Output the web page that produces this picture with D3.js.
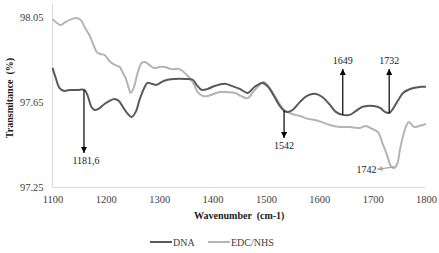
<!DOCTYPE html>
<html>
<meta charset="utf-8">
<style>
body { margin: 0; background: #fff; font-family: "Liberation Serif", "Times New Roman", "DejaVu Serif", serif; }
svg text { font-family: "Liberation Serif", "Times New Roman", "DejaVu Serif", serif; }
.axis text { font-size: 10.5px; fill: #404040; }
.axis-line { stroke: #d9d9d9; stroke-width: 1; shape-rendering: crispEdges; }
.title { font-size: 10px; font-weight: bold; fill: #202020; white-space: pre; }
.ann { font-size: 10px; fill: #202020; }
.legend text { font-size: 10px; fill: #404040; }
</style>
<body>
<script src="https://d3js.org/d3.v7.min.js"></script>
<script>

var dnaWave = [1100,1106,1113,1121,1132,1147,1160,1166,1173,1179,1186,1198,1207,1216,1224,1233,1241,1248,1256,1263,
  1273,1278,1286,1295,1305,1316,1329,1348,1363,1370,1380,1391,1404,1423,1436,1451,1466,1479,1494,1504,
  1517,1526,1534,1541,1550,1564,1577,1592,1605,1620,1631,1644,1657,1669,1680,1689,1702,1714,1723,1731,
  1738,1748,1757,1766,1779,1791,1800];
var dnaValues = [97.810,97.763,97.716,97.702,97.706,97.706,97.706,97.678,97.626,97.612,97.617,97.641,97.655,97.664,97.655,97.622,97.594,97.579,97.603,97.659,
  97.721,97.739,97.735,97.730,97.744,97.754,97.758,97.758,97.754,97.730,97.706,97.711,97.725,97.735,97.725,97.711,97.692,97.721,97.739,97.721,
  97.669,97.631,97.608,97.603,97.612,97.650,97.678,97.688,97.674,97.636,97.603,97.589,97.589,97.608,97.626,97.631,97.631,97.622,97.603,97.598,
  97.617,97.659,97.692,97.706,97.716,97.721,97.721];

var edcWave = [1100,1108,1115,1124,1136,1145,1153,1160,1169,1177,1183,1190,1198,1205,1211,1218,1226,1231,1237,1243,
  1246,1252,1260,1267,1273,1282,1291,1301,1310,1323,1338,1350,1363,1372,1382,1391,1402,1413,1428,1442,
  1453,1466,1479,1496,1507,1519,1528,1535,1549,1564,1579,1592,1605,1620,1639,1657,1676,1687,1699,1710,
  1719,1727,1734,1740,1746,1751,1757,1763,1768,1778,1787,1800];
var edcValues = [98.039,98.021,98.011,98.025,98.039,98.044,98.035,98.002,97.964,97.917,97.884,97.875,97.870,97.847,97.833,97.823,97.814,97.790,97.762,97.715,
  97.692,97.715,97.790,97.833,97.837,97.823,97.809,97.814,97.814,97.804,97.804,97.781,97.743,97.696,97.678,97.678,97.687,97.696,97.696,97.692,
  97.678,97.668,97.706,97.743,97.715,97.668,97.631,97.612,97.593,97.584,97.570,97.565,97.555,97.541,97.532,97.532,97.527,97.537,97.523,97.508,
  97.452,97.400,97.349,97.339,97.358,97.424,97.490,97.537,97.555,97.532,97.537,97.546];

var xTicks = [1100, 1200, 1300, 1400, 1500, 1600, 1700, 1800];
var yTicks = [97.25, 97.65, 98.05];

var seriesNames = ["DNA", "EDC/NHS"];
var seriesColors = ["#595959", "#b4b4b4"];

// peak annotations: label, wavenumber, start value, arrow tip value
var annLabels = ["1181,6", "1542", "1649", "1732"];
var annWave = [1159, 1534, 1644, 1731];
var annFrom = [97.706, 97.608, 97.589, 97.598];
var annTo = [97.41, 97.48, 97.805, 97.805];

var width = 439, height = 253;
var serif = '"Liberation Serif", "Times New Roman", "DejaVu Serif", serif';
var x = d3.scaleLinear().domain([1100, 1800]).range([52.5, 426]);
var y = d3.scaleLinear().domain([97.25, 98.11]).range([187, 4]);

var svg = d3.select("body").append("svg")
    .attr("width", width)
    .attr("height", height)
    .style("font-family", serif);

var defs = svg.append("defs");
defs.append("marker")
    .attr("id", "tri")
    .attr("viewBox", "0 0 10 10")
    .attr("refX", 10)
    .attr("refY", 5)
    .attr("markerWidth", 6)
    .attr("markerHeight", 6)
    .attr("markerUnits", "userSpaceOnUse")
    .attr("orient", "auto")
  .append("path")
    .attr("d", "M0,0L10,5L0,10z")
    .attr("fill", "#000");
defs.append("marker")
    .attr("id", "tri-gray")
    .attr("viewBox", "0 0 10 10")
    .attr("refX", 10)
    .attr("refY", 5)
    .attr("markerWidth", 6)
    .attr("markerHeight", 5)
    .attr("markerUnits", "userSpaceOnUse")
    .attr("orient", "auto")
  .append("path")
    .attr("d", "M0,0L10,5L0,10z")
    .attr("fill", "#a6a6a6");

// axes
svg.append("line").attr("class", "axis-line")
    .attr("x1", x(1100)).attr("x2", x(1100))
    .attr("y1", y.range()[1]).attr("y2", y.range()[0]);
svg.append("line").attr("class", "axis-line")
    .attr("x1", x(1100)).attr("x2", x(1800))
    .attr("y1", y(97.25)).attr("y2", y(97.25));

svg.append("g")
    .attr("class", "axis")
    .attr("transform", "translate(" + x(1100) + ",0)")
    .call(d3.axisLeft(y).tickValues(yTicks).tickSize(0).tickPadding(9).tickFormat(d3.format(".2f")))
    .call(function(g) { g.select(".domain").remove(); });

svg.append("g")
    .attr("class", "axis")
    .attr("transform", "translate(0," + y(97.25) + ")")
    .call(d3.axisBottom(x).tickValues(xTicks).tickSize(0).tickPadding(9).tickFormat(d3.format("d")))
    .call(function(g) { g.select(".domain").remove(); });

svg.selectAll(".axis").attr("font-family", null).attr("font-size", null);

// titles
svg.append("text")
    .attr("class", "title")
    .attr("transform", "translate(13,98) rotate(-90)")
    .attr("text-anchor", "middle")
    .text("Transmitance  (%)");

svg.append("text")
    .attr("class", "title")
    .attr("x", (x(1100) + x(1800)) / 2)
    .attr("y", 219)
    .attr("text-anchor", "middle")
    .text("Wavenumber  (cm-1)");

// series
var line = d3.line()
    .x(function(d) { return x(d[0]); })
    .y(function(d) { return y(d[1]); })
    .curve(d3.curveCatmullRom.alpha(0.5));

var series = [d3.zip(dnaWave, dnaValues), d3.zip(edcWave, edcValues)];

svg.selectAll(".series")
    .data([1, 0])
  .enter().append("path")
    .attr("class", "series")
    .attr("fill", "none")
    .attr("stroke", function(i) { return seriesColors[i]; })
    .attr("stroke-width", 2)
    .attr("stroke-linejoin", "round")
    .attr("d", function(i) { return line(series[i]); });

// black arrows
annLabels.forEach(function(lbl, i) {
  var up = annTo[i] > annFrom[i];
  svg.append("line")
      .attr("x1", x(annWave[i])).attr("x2", x(annWave[i]))
      .attr("y1", y(annFrom[i])).attr("y2", y(annTo[i]))
      .attr("stroke", "#000")
      .attr("stroke-width", 1.2)
      .attr("marker-end", "url(#tri)");
  svg.append("text")
      .attr("class", "ann")
      .attr("x", x(annWave[i]) + (i === 0 ? 2 : 0))
      .attr("y", up ? y(annTo[i]) - 5 : y(annTo[i]) + 11)
      .attr("text-anchor", "middle")
      .text(lbl);
});

// gray arrow for 1742
svg.append("line")
    .attr("x1", x(1740)).attr("x2", x(1709))
    .attr("y1", y(97.345)).attr("y2", y(97.333))
    .attr("stroke", "#a6a6a6")
    .attr("stroke-width", 1.2)
    .attr("marker-end", "url(#tri-gray)");
svg.append("text")
    .attr("class", "ann")
    .attr("x", x(1707))
    .attr("y", y(97.333) + 3.5)
    .attr("text-anchor", "end")
    .text("1742");

// legend
var legend = svg.append("g").attr("class", "legend");
var legX = [150, 208];
seriesNames.forEach(function(name, i) {
  legend.append("line")
      .attr("x1", legX[i]).attr("x2", legX[i] + 22)
      .attr("y1", 242).attr("y2", 242)
      .attr("stroke", seriesColors[i])
      .attr("stroke-width", 2);
  legend.append("text")
      .attr("x", legX[i] + 23)
      .attr("y", 245.5)
      .text(name);
});

</script>
</body>
</html>
